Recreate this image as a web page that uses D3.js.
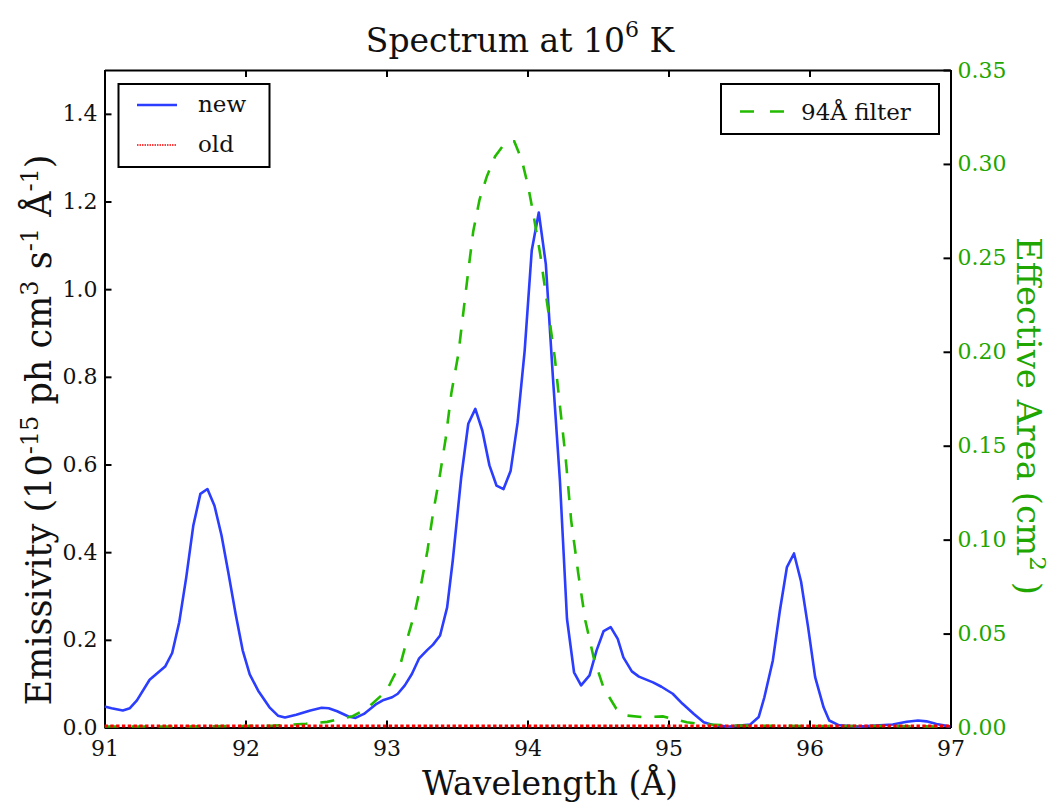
<!DOCTYPE html>
<html><head><meta charset="utf-8">
<script src="https://cdn.jsdelivr.net/npm/d3@7"></script>
<style>body{margin:0;background:#fff}svg{display:block}text{font-family:"DejaVu Serif",serif}</style>
</head><body><svg id="c" width="1053" height="806"></svg>
<script>
const newWave = [91.00,91.05,91.13,91.18,91.23,91.32,91.43,91.48,91.53,91.58,91.63,91.68,91.73,91.78,91.83,91.88,91.93,91.98,92.03,92.09,92.17,92.23,92.28,92.36,92.46,92.54,92.59,92.65,92.73,92.78,92.84,92.93,92.98,93.04,93.08,93.13,93.18,93.23,93.29,93.33,93.38,93.43,93.47,93.53,93.58,93.63,93.68,93.73,93.78,93.83,93.88,93.93,93.98,94.03,94.08,94.13,94.18,94.23,94.28,94.33,94.38,94.44,94.49,94.54,94.59,94.64,94.68,94.74,94.79,94.89,94.95,95.03,95.10,95.18,95.25,95.32,95.43,95.58,95.64,95.68,95.74,95.79,95.84,95.89,95.94,95.99,96.04,96.10,96.14,96.21,96.35,96.59,96.69,96.77,96.83,96.90,97.00];
const newVals = [0.048,0.044,0.039,0.044,0.062,0.109,0.139,0.170,0.240,0.343,0.461,0.533,0.544,0.506,0.438,0.350,0.259,0.176,0.121,0.084,0.046,0.027,0.023,0.029,0.039,0.045,0.044,0.037,0.025,0.022,0.031,0.054,0.063,0.069,0.077,0.096,0.122,0.157,0.177,0.189,0.210,0.274,0.381,0.571,0.693,0.727,0.677,0.598,0.552,0.544,0.585,0.696,0.860,1.088,1.175,1.057,0.800,0.563,0.248,0.126,0.096,0.119,0.176,0.220,0.229,0.202,0.160,0.128,0.116,0.103,0.093,0.077,0.054,0.031,0.012,0.005,0.002,0.007,0.024,0.069,0.153,0.267,0.366,0.397,0.333,0.229,0.115,0.046,0.016,0.005,0.002,0.007,0.013,0.016,0.014,0.008,0.002];
const oldWave = [91,92,93,94,95,96,97];
const oldVals = [0,0,0,0,0,0,0];
const filtWave = [91.0,91.5,92.0,92.2,92.43,92.58,92.76,92.86,93.0,93.05,93.10,93.15,93.20,93.25,93.29,93.33,93.38,93.42,93.46,93.51,93.545,93.58,93.615,93.66,93.71,93.77,93.83,93.876,93.906,93.96,94.005,94.04,94.09,94.12,94.16,94.195,94.22,94.27,94.31,94.36,94.41,94.47,94.54,94.63,94.70,94.82,94.96,95.03,95.13,95.25,95.5,96.0,96.5,97.0];
const filtVals = [0.0005,0.0005,0.0008,0.001,0.002,0.003,0.006,0.010,0.0195,0.027,0.034,0.048,0.061,0.078,0.094,0.114,0.135,0.154,0.178,0.199,0.221,0.243,0.264,0.281,0.293,0.304,0.310,0.312,0.312,0.302,0.288,0.274,0.252,0.236,0.215,0.196,0.178,0.144,0.110,0.082,0.057,0.037,0.021,0.010,0.0064,0.0055,0.0059,0.0046,0.0028,0.0016,0.001,0.0008,0.0008,0.0005];
const xTicks = [91,92,93,94,95,96,97];
const yLeftTicks = [0.0,0.2,0.4,0.6,0.8,1.0,1.2,1.4];
const yRightTicks = [0.00,0.05,0.10,0.15,0.20,0.25,0.30,0.35];

const L=104.5,R=950.5,T=70,B=727.5;
const BLUE="#2b3dff",GREEN="#22bb00",GTXT="#1fa600",RED="#ff0000";
const svg=d3.select("#c");
const x=d3.scaleLinear().domain([91,97]).range([L,R]);
const yL=d3.scaleLinear().domain([0,1.5]).range([B,T]);
const yR=d3.scaleLinear().domain([0,0.35]).range([B,T]);

// axes
const tl=7;
const gb=svg.append("g").attr("transform",`translate(0,${B})`).call(d3.axisBottom(x).tickValues(xTicks).tickFormat(d3.format("d")).tickSizeInner(-tl).tickSizeOuter(0).tickPadding(13));
const gt=svg.append("g").attr("transform",`translate(0,${T})`).call(d3.axisTop(x).tickValues(xTicks).tickFormat("").tickSizeInner(-tl).tickSizeOuter(0));
const gl=svg.append("g").attr("transform",`translate(${L},0)`).call(d3.axisLeft(yL).tickValues(yLeftTicks).tickFormat(d3.format(".1f")).tickSizeInner(-tl).tickSizeOuter(0).tickPadding(7));
const gr=svg.append("g").attr("transform",`translate(${R},0)`).call(d3.axisRight(yR).tickValues(yRightTicks).tickFormat(d3.format(".2f")).tickSizeInner(-tl).tickSizeOuter(0).tickPadding(7));
[gb,gt,gl,gr].forEach(g=>{g.select(".domain").attr("stroke","#000").attr("stroke-width",2);g.selectAll(".tick line").attr("stroke","#000").attr("stroke-width",2);g.selectAll("text").attr("font-family","DejaVu Serif").attr("fill","#111");});
gb.selectAll("text").attr("font-size",22);
gl.selectAll("text").attr("font-size",22);
gr.selectAll("text").attr("font-size",22).attr("fill",GTXT);

// lines
svg.append("clipPath").attr("id","pc").append("rect").attr("x",L).attr("y",T-2).attr("width",R-L).attr("height",B-T+4);
const lineL=d3.line().x(d=>x(d[0])).y(d=>yL(d[1]));
const lineR=d3.line().x(d=>x(d[0])).y(d=>yR(d[1]));
const g=svg.append("g").attr("clip-path","url(#pc)");
g.append("path").datum(d3.zip(newWave,newVals)).attr("d",lineL).attr("fill","none").attr("stroke",BLUE).attr("stroke-width",2.6).attr("stroke-linejoin","round");
g.append("path").datum(d3.zip(filtWave,filtVals)).attr("d",lineR).attr("fill","none").attr("stroke",GREEN).attr("stroke-width",2.6).attr("stroke-dasharray","14,13");
g.append("path").datum(d3.zip(oldWave,oldVals)).attr("d",lineL).attr("transform","translate(0,-1.5)").attr("fill","none").attr("stroke",RED).attr("stroke-width",3).attr("stroke-dasharray","3.4,2.4");

// legends
const lg1=svg.append("g");
lg1.append("rect").attr("x",118.5).attr("y",84).attr("width",151).attr("height",83).attr("fill","#fff").attr("stroke","#000").attr("stroke-width",2);
lg1.append("line").attr("x1",137).attr("x2",177).attr("y1",105).attr("y2",105).attr("stroke",BLUE).attr("stroke-width",2.6);
lg1.append("line").attr("x1",137).attr("x2",177).attr("y1",145).attr("y2",145).attr("stroke",RED).attr("stroke-width",1.5).attr("stroke-dasharray","1.5,1");
lg1.append("text").attr("x",198).attr("y",112).attr("font-size",23).attr("fill","#111").text("new");
lg1.append("text").attr("x",198).attr("y",152).attr("font-size",23).attr("fill","#111").text("old");
const lg2=svg.append("g");
lg2.append("rect").attr("x",721).attr("y",84).attr("width",218).attr("height",50).attr("fill","#fff").attr("stroke","#000").attr("stroke-width",2);
lg2.append("line").attr("x1",740).attr("x2",784).attr("y1",111.5).attr("y2",111.5).attr("stroke",GREEN).attr("stroke-width",2.6).attr("stroke-dasharray","14,16");
lg2.append("text").attr("x",801).attr("y",120).attr("font-size",23).attr("fill","#111").text("94Å filter");

// title
const tt=svg.append("text").attr("x",520).attr("y",52).attr("text-anchor","middle").attr("font-size",33).attr("fill","#111");
tt.append("tspan").text("Spectrum at 10");
tt.append("tspan").attr("dy",-15).attr("font-size",22).text("6");
tt.append("tspan").attr("dy",15).text(" K");

// x label
svg.append("text").attr("x",550).attr("y",795).attr("text-anchor","middle").attr("font-size",33).attr("fill","#111").text("Wavelength (Å)");

// left y label
const yl=svg.append("text").attr("transform","translate(51,430) rotate(-90)").attr("text-anchor","middle").attr("font-size",35).attr("fill","#111");
yl.append("tspan").text("Emissivity (10");
yl.append("tspan").attr("dy",-13).attr("font-size",24).text("-15");
yl.append("tspan").attr("dy",13).text(" ph cm");
yl.append("tspan").attr("dy",-13).attr("font-size",24).text("3");
yl.append("tspan").attr("dy",13).text(" s");
yl.append("tspan").attr("dy",-13).attr("font-size",24).text("-1");
yl.append("tspan").attr("dy",13).text(" Å");
yl.append("tspan").attr("dy",-13).attr("font-size",24).text("-1");
yl.append("tspan").attr("dy",13).text(")");

// right y label
const yr=svg.append("text").attr("transform","translate(1017,416) rotate(90)").attr("text-anchor","middle").attr("font-size",34).attr("fill",GTXT);
yr.append("tspan").text("Effective Area (cm");
yr.append("tspan").attr("dy",-13).attr("font-size",23).text("2");
yr.append("tspan").attr("dy",13).text(" )");
</script></body></html>
